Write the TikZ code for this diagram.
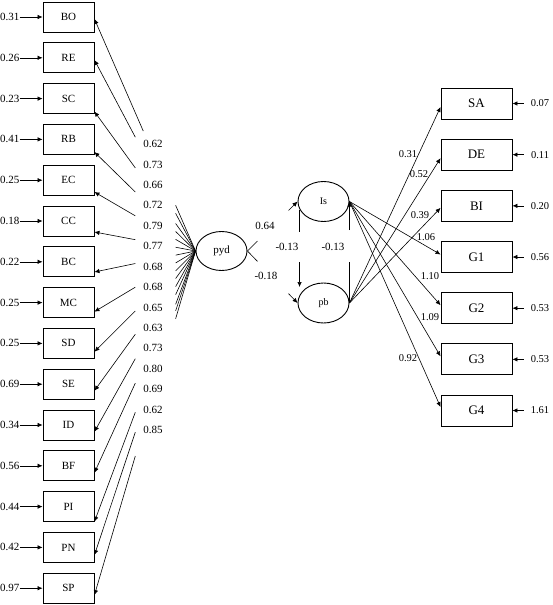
\documentclass[tikz,border=0pt]{standalone}
\usepackage{fontspec}
\setmainfont{Liberation Serif}
\usetikzlibrary{arrows.meta,calc,shapes.geometric}
\begin{document}
\begin{tikzpicture}[x=1pt,y=-1pt,
  box/.style={draw,line width=0.9pt,minimum width=51pt,minimum height=30pt,inner sep=0pt,font=\fontsize{11}{11}\selectfont},
  rbox/.style={draw,line width=0.9pt,minimum width=71pt,minimum height=31pt,inner sep=0pt,font=\fontsize{13}{13}\selectfont},
  lat/.style={draw,ellipse,line width=0.9pt,minimum width=51pt,minimum height=39pt,inner sep=0pt},
  lbl/.style={inner sep=0pt,font=\fontsize{11}{11}\selectfont},
  slbl/.style={inner sep=0pt,font=\fontsize{10.5}{10.5}\selectfont},
  arr/.style={line width=0.6pt,-{Latex[length=5pt,width=4.5pt]}},
  ln/.style={line width=0.6pt}]
\useasboundingbox (0,0) rectangle (553,605);

% left indicators
\foreach \nm/\ev/\lv/\dy [count=\i from 0] in {BO/0.31/0.62/2, RE/0.26/0.73/2.2, SC/0.23/0.66/13, RB/0.41/0.72/12.6, EC/0.25/0.79/11.8, CC/0.18/0.77/11, BC/0.22/0.68/10.2, MC/0.25/0.68/9.1, SD/0.25/0.65/8.3, SE/0.69/0.63/6.5, ID/0.34/0.73/6.7, BF/0.56/0.80/6.9, PI/0.44/0.69/15, PN/0.42/0.62/7.6, SP/0.97/0.85/6.8} {
  \node[box] (\nm) at (68.5,{17+40.8*\i}) {\nm};
  \node[lbl,anchor=east] (e\nm) at (19.5,{17+40.8*\i}) {\ev};
  \draw[arr] (e\nm.east) -- (\nm.west);
  \node[lbl] (l\nm) at (153,{144+20.43*\i}) {\lv};
  \coordinate (t\nm) at ($(\nm.east)+(0,\dy)$);
}

% latent pyd
\node[lat,font=\fontsize{11}{11}\selectfont] (pyd) at (221.5,251) {pyd};
\foreach \nm/\s in {BO/0.517, RE/0.596, SC/0.596, RB/0.596, EC/0.596, CC/0.596, BC/0.596, MC/0.596, SD/0.596, SE/0.596, ID/0.596, BF/0.596, PI/0.596, PN/0.596, SP/0.596} {
  \draw[ln] (pyd.west) -- ($(pyd.west)!0.197!(t\nm)$);
  \draw[arr] ($(pyd.west)!\s!(t\nm)$) -- (t\nm);
}

% latents Is and pb
\node[lat,minimum height=40pt,font=\fontsize{10}{10}\selectfont] (Is) at (323.5,201.5) {Is};
\node[lat,minimum height=40pt,font=\fontsize{10}{10}\selectfont] (pb) at (323.5,303) {pb};

\draw[ln] (pyd.east) -- ($(pyd.east)!0.2!(Is.west)$);
\draw[arr] ($(pyd.east)!0.82!(Is.west)$) -- (Is.west);
\draw[ln] (pyd.east) -- ($(pyd.east)!0.2!(pb.west)$);
\draw[arr] ($(pyd.east)!0.82!(pb.west)$) -- (pb.west);
\node[lbl] (p64) at (265,226) {0.64};
\node[lbl] (p18) at (266,276) {-0.18};

\coordinate (a1) at ($(Is.west)+(2,8.5)$);
\coordinate (a2) at ($(Is.west)+(2,30.5)$);
\coordinate (a3) at ($(pb.west)+(2,-41)$);
\coordinate (a4) at ($(pb.west)+(2,-16)$);
\draw[ln] (a1) -- (a2);
\draw[arr] (a3) -- (a4);
\coordinate (b1) at ($(Is.east)+(0,28.5)$);
\coordinate (b2) at ($(pb.east)+(0,-41)$);
\draw[arr] (b1) -- (Is.east);
\draw[ln] (b2) -- (pb.east);
\node[lbl] (c1) at (287,247) {-0.13};
\node[lbl] (c2) at (333,247) {-0.13};

% right indicators
\foreach \nm/\ev [count=\i from 0] in {SA/0.07, DE/0.11, BI/0.20, G1/0.56, G2/0.53, G3/0.53, G4/1.61} {
  \node[rbox] (\nm) at (476.5,{103.5+51.17*\i}) {\nm};
  \node[slbl] (e\nm) at (540,{103.5+51.17*\i}) {\ev};
  \draw[arr] ($(e\nm.west)+(-7,0)$) -- (\nm.east);
}
\foreach \nm/\dy in {SA/3.5, DE/3.5, BI/2}
  \draw[arr] (pb.east) -- ($(\nm.west)+(0,\dy)$);
\foreach \nm/\dy in {G1/-2.5, G2/-3, G3/-3, G4/-3.5}
  \draw[arr] (Is.east) -- ($(\nm.west)+(0,\dy)$);

\node[slbl] (r1) at (408,154) {0.31};
\node[slbl] (r2) at (419,174) {0.52};
\node[slbl] (r3) at (420,215) {0.39};
\node[slbl] (r4) at (426,237) {1.06};
\node[slbl] (r5) at (430,276) {1.10};
\node[slbl] (r6) at (430,317) {1.09};
\node[slbl] (r7) at (408,358) {0.92};
\end{tikzpicture}
\end{document}
